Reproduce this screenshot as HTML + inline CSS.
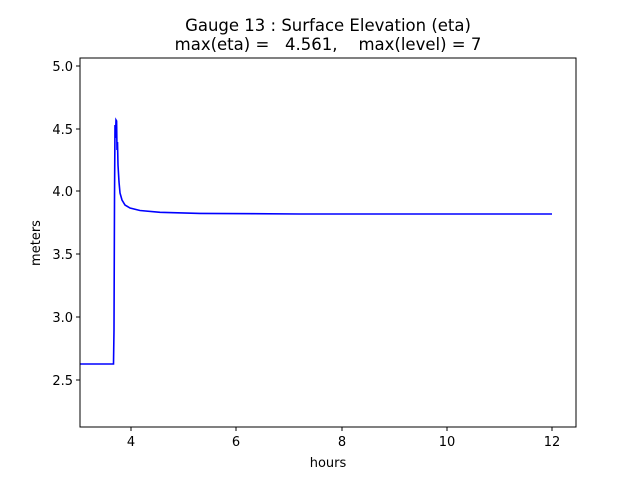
<!DOCTYPE html>
<html><head><style>body{margin:0;background:#fff}</style></head><body>
<svg width="640" height="480" xmlns="http://www.w3.org/2000/svg" font-family="DejaVu Sans, Liberation Sans, sans-serif">
<rect width="640" height="480" fill="#fff"/>
<text x="328" y="31" font-size="16.5" text-anchor="middle">Gauge 13 : Surface Elevation (eta)</text>
<text x="328" y="50" font-size="16.5" text-anchor="middle" xml:space="preserve">max(eta) =   4.561,    max(level) = 7</text>
<polyline fill="none" stroke="#0000ff" stroke-width="1.6" points="80,364 113.5,364 114,330 114.5,200 115,125 115.5,138 116,120 116.6,121 117,150 117.5,142 118,165 119,182 120,193 122,200 125,205 130,208 140,210.5 160,212.3 200,213.4 300,214 552,214"/>
<rect x="80" y="58" width="496" height="369" fill="none" stroke="#000" stroke-width="1"/>
<g stroke="#000" stroke-width="1">
<line x1="131" y1="427" x2="131" y2="431"/><line x1="236" y1="427" x2="236" y2="431"/><line x1="342" y1="427" x2="342" y2="431"/><line x1="447" y1="427" x2="447" y2="431"/><line x1="552" y1="427" x2="552" y2="431"/>
<line x1="76" y1="380" x2="80" y2="380"/><line x1="76" y1="317" x2="80" y2="317"/><line x1="76" y1="254" x2="80" y2="254"/><line x1="76" y1="191" x2="80" y2="191"/><line x1="76" y1="129" x2="80" y2="129"/><line x1="76" y1="66" x2="80" y2="66"/>
</g>
<g font-size="13" text-anchor="middle">
<text x="131" y="446">4</text><text x="236" y="446">6</text><text x="342" y="446">8</text><text x="447" y="446">10</text><text x="552" y="446">12</text>
<text x="328" y="467">hours</text>
</g>
<g font-size="13" text-anchor="end">
<text x="73" y="385">2.5</text><text x="73" y="322">3.0</text><text x="73" y="259">3.5</text><text x="73" y="196">4.0</text><text x="73" y="134">4.5</text><text x="73" y="71">5.0</text>
</g>
<text x="40" y="243" font-size="13" text-anchor="middle" transform="rotate(-90 40 243)">meters</text>
</svg>
</body></html>
